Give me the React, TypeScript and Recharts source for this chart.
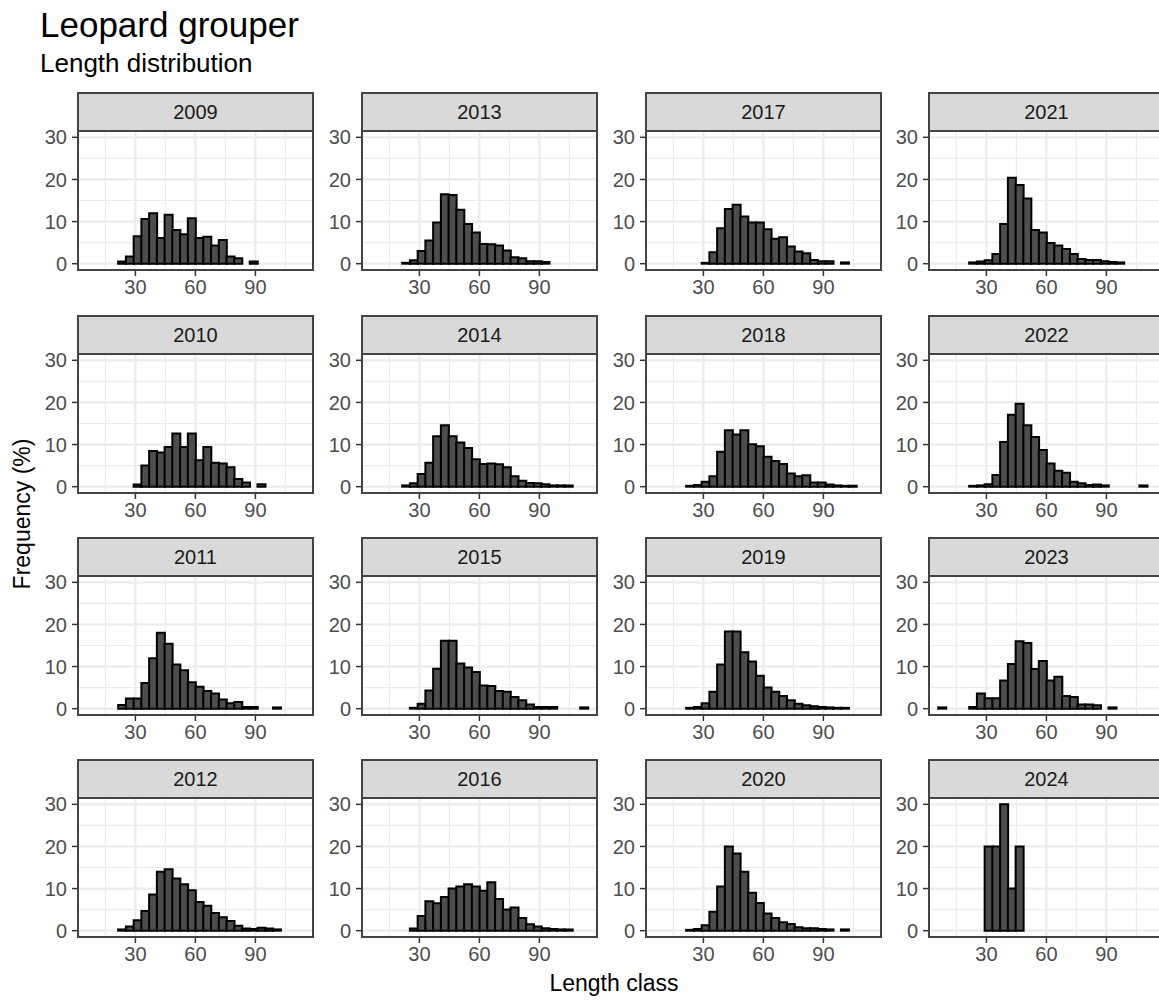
import { BarChart, Bar, XAxis, YAxis, CartesianGrid } from "recharts";

const _ = null;

// length class midpoints (cm)
const lengthClass = [
  7.84, 11.71, 15.58, 19.45, 23.32, 27.19, 31.06, 34.93, 38.8, 42.67, 46.54, 50.41, 54.28, 58.15,
  62.02, 65.89, 69.76, 73.63, 77.5, 81.37, 85.24, 89.11, 92.98, 96.85, 100.72, 104.59, 108.46, 112.33,
];

// frequency (%) per length class, one array per year
const y2009 = [_, _, _, _, 0.5, 1.7, 6.5, 10.6, 12.0, 6.1, 11.6, 8.0, 7.0, 10.8, 6.1, 6.4, 4.3, 5.6, 1.7, 1.3, _, 0.5, _, _, _, _, _, _];
const y2010 = [_, _, _, _, _, _, 0.5, 5.0, 8.5, 8.1, 9.4, 12.6, 9.4, 12.6, 6.3, 9.4, 5.7, 5.5, 4.6, 1.8, 1.0, _, 0.6, _, _, _, _, _];
const y2011 = [_, _, _, _, 0.9, 2.4, 2.4, 6.1, 12.0, 18.0, 15.4, 10.5, 9.1, 6.3, 5.2, 4.2, 3.6, 2.2, 1.3, 1.6, 0.4, 0.4, _, _, 0.3, _, _, _];
const y2012 = [_, _, _, _, 0.3, 1.0, 2.5, 4.7, 8.6, 14.0, 14.6, 12.4, 11.0, 9.6, 6.8, 5.9, 4.2, 3.2, 2.3, 1.2, 0.5, 0.4, 0.7, 0.5, 0.3, _, _, _];
const y2013 = [_, _, _, _, 0.2, 0.8, 3.0, 5.5, 9.8, 16.5, 16.3, 12.8, 9.4, 7.4, 4.7, 4.6, 4.3, 3.1, 1.5, 1.3, 0.6, 0.6, 0.4, _, _, _, _, _];
const y2014 = [_, _, _, _, 0.3, 0.8, 3.0, 5.7, 12.0, 14.6, 12.0, 10.5, 9.2, 6.5, 5.4, 5.5, 5.3, 4.6, 2.5, 1.4, 0.9, 0.8, 0.6, 0.3, 0.3, 0.3, _, _];
const y2015 = [_, _, _, _, _, 0.2, 1.2, 4.3, 9.5, 16.1, 16.1, 10.7, 9.8, 8.7, 5.5, 5.4, 4.2, 4.0, 2.8, 2.0, 1.0, 0.4, 0.4, 0.4, _, _, _, 0.3];
const y2016 = [_, _, _, _, _, 0.5, 3.5, 7.0, 6.5, 8.0, 10.0, 10.5, 11.0, 10.5, 9.5, 11.5, 7.5, 5.0, 5.5, 3.0, 1.5, 1.0, 0.6, 0.4, 0.3, 0.3, _, _];
const y2017 = [_, _, _, _, _, _, 0.2, 2.7, 8.4, 13.0, 14.0, 11.2, 9.8, 9.8, 8.2, 5.9, 6.3, 4.1, 2.9, 2.5, 0.9, 0.6, 0.6, _, 0.3, _, _, _];
const y2018 = [_, _, _, _, 0.2, 0.4, 1.2, 2.5, 8.3, 13.4, 12.4, 13.4, 10.1, 9.6, 7.1, 6.1, 5.4, 3.1, 2.5, 2.7, 1.0, 1.0, 0.5, 0.3, 0.2, 0.2, _, _];
const y2019 = [_, _, _, _, 0.2, 0.4, 1.3, 4.0, 10.5, 18.3, 18.3, 13.4, 11.2, 7.8, 5.0, 4.0, 3.0, 2.0, 1.2, 0.8, 0.6, 0.4, 0.3, 0.2, 0.2, _, _, _];
const y2020 = [_, _, _, _, 0.2, 0.4, 1.3, 4.5, 10.5, 20.0, 18.3, 14.0, 9.0, 6.6, 4.1, 3.0, 2.0, 1.6, 0.8, 0.6, 0.6, 0.4, 0.3, _, 0.3, _, _, _];
const y2021 = [_, _, _, _, 0.3, 0.5, 0.8, 2.3, 9.4, 20.4, 18.7, 15.5, 8.0, 7.4, 4.9, 4.3, 3.5, 2.3, 1.1, 0.9, 0.9, 0.6, 0.4, 0.3, _, _, _, _];
const y2022 = [_, _, _, _, 0.2, 0.3, 0.6, 2.8, 10.6, 17.1, 19.7, 14.6, 11.8, 8.7, 5.5, 3.8, 3.3, 1.2, 0.8, 0.4, 0.5, 0.3, _, _, _, _, 0.3, _];
const y2023 = [0.3, _, _, _, 0.4, 3.6, 2.5, 2.5, 6.7, 10.6, 16.0, 15.6, 9.4, 11.3, 6.7, 7.6, 3.0, 2.8, 1.0, 1.0, 0.8, _, 0.3, _, _, _, _, _];
const y2024 = [_, _, _, _, _, _, 20, 20, 30, 10, 20, _, _, _, _, _, _, _, _, _, _, _, _, _, _, _, _, _];

const years = [2009, 2010, 2011, 2012, 2013, 2014, 2015, 2016, 2017, 2018, 2019, 2020, 2021, 2022, 2023, 2024];
const series = [y2009, y2010, y2011, y2012, y2013, y2014, y2015, y2016, y2017, y2018, y2019, y2020, y2021, y2022, y2023, y2024];

const xTicks = [30, 60, 90];
const yTicks = [0, 10, 20, 30];

// layout (px)
const COL_LEFT = [78, 362, 646, 929];
const STRIP_TOP = [92, 315, 537, 759];
const STRIP_H = 39;
const PLOT_W = 235;
const PLOT_H = 139;
const AXIS_W = 50;
const PAD_TOP = 14;
const FONT = '"Liberation Sans", Arial, sans-serif';

const tickStyle = { fontSize: 20, fill: "#4D4D4D", fontFamily: FONT };

function Panel({ year, values, left, top }: { year: number; values: (number | null)[]; left: number; top: number }) {
  const data = lengthClass
    .map((x, i) => ({ x, pct: values[i] }))
    .filter((d) => d.pct != null);
  const plotTop = top + STRIP_H;
  return (
    <>
      <div style={{ position: "absolute", left: left - AXIS_W, top: plotTop - PAD_TOP }}>
        <BarChart
          width={PLOT_W + AXIS_W}
          height={PLOT_H + 32 + PAD_TOP}
          data={data}
          margin={{ top: PAD_TOP, right: 0, bottom: 0, left: 0 }}
          barCategoryGap={0}
          barGap={0}
        >
          <CartesianGrid
            stroke="#EBEBEB"
            strokeWidth={1.2}
            horizontalValues={[5, 15, 25]}
            verticalValues={[15, 45, 75, 105]}
          />
          <CartesianGrid stroke="#EBEBEB" strokeWidth={2.2} horizontalValues={yTicks} verticalValues={xTicks} />
          <XAxis
            type="number"
            dataKey="x"
            domain={[1.3, 118.8]}
            allowDataOverflow
            ticks={xTicks}
            interval={0}
            axisLine={false}
            tickLine={{ stroke: "#333", strokeWidth: 1.5 }}
            tickSize={6}
            tickMargin={4}
            height={32}
            tick={tickStyle}
          />
          <YAxis
            type="number"
            domain={[-1.5, 31.5]}
            allowDataOverflow
            ticks={yTicks}
            interval={0}
            axisLine={false}
            tickLine={{ stroke: "#333", strokeWidth: 1.5 }}
            tickSize={6}
            tickMargin={5}
            width={AXIS_W}
            tick={tickStyle}
          />
          <Bar dataKey="pct" fill="#4D4D4D" stroke="#000" strokeWidth={2} isAnimationActive={false} />
        </BarChart>
      </div>
      <div
        style={{
          position: "absolute",
          left: left - 1,
          top: plotTop - 1,
          width: PLOT_W + 2,
          height: PLOT_H + 2,
          boxSizing: "border-box",
          border: "2px solid #444",
          pointerEvents: "none",
        }}
      />
      <div
        style={{
          position: "absolute",
          left: left - 1,
          top,
          width: PLOT_W + 2,
          height: STRIP_H + 1,
          boxSizing: "border-box",
          background: "#D9D9D9",
          border: "2px solid #444",
          color: "#1A1A1A",
          fontSize: 20,
          fontFamily: FONT,
          textAlign: "center",
          lineHeight: `${STRIP_H - 3}px`,
        }}
      >
        {year}
      </div>
    </>
  );
}

export default function App() {
  return (
    <div
      style={{
        position: "absolute",
        left: 0,
        top: 0,
        width: 1159,
        height: 1000,
        overflow: "hidden",
        background: "#fff",
        fontFamily: FONT,
      }}
    >
      <svg width={1159} height={1000} style={{ position: "absolute", left: 0, top: 0 }}>
        <text x={40} y={37} fontSize={35} fill="#000" fontFamily={FONT}>
          Leopard grouper
        </text>
        <text x={40} y={72} fontSize={26} fill="#000" fontFamily={FONT}>
          Length distribution
        </text>
        <text x={614} y={991} fontSize={23} fill="#000" textAnchor="middle" fontFamily={FONT}>
          Length class
        </text>
        <text
          x={0}
          y={0}
          fontSize={23}
          fill="#000"
          textAnchor="middle"
          fontFamily={FONT}
          transform="translate(30 514) rotate(-90)"
        >
          Frequency (%)
        </text>
      </svg>
      {years.map((year, i) => (
        <Panel
          key={year}
          year={year}
          values={series[i]}
          left={COL_LEFT[Math.floor(i / 4)]}
          top={STRIP_TOP[i % 4]}
        />
      ))}
    </div>
  );
}
